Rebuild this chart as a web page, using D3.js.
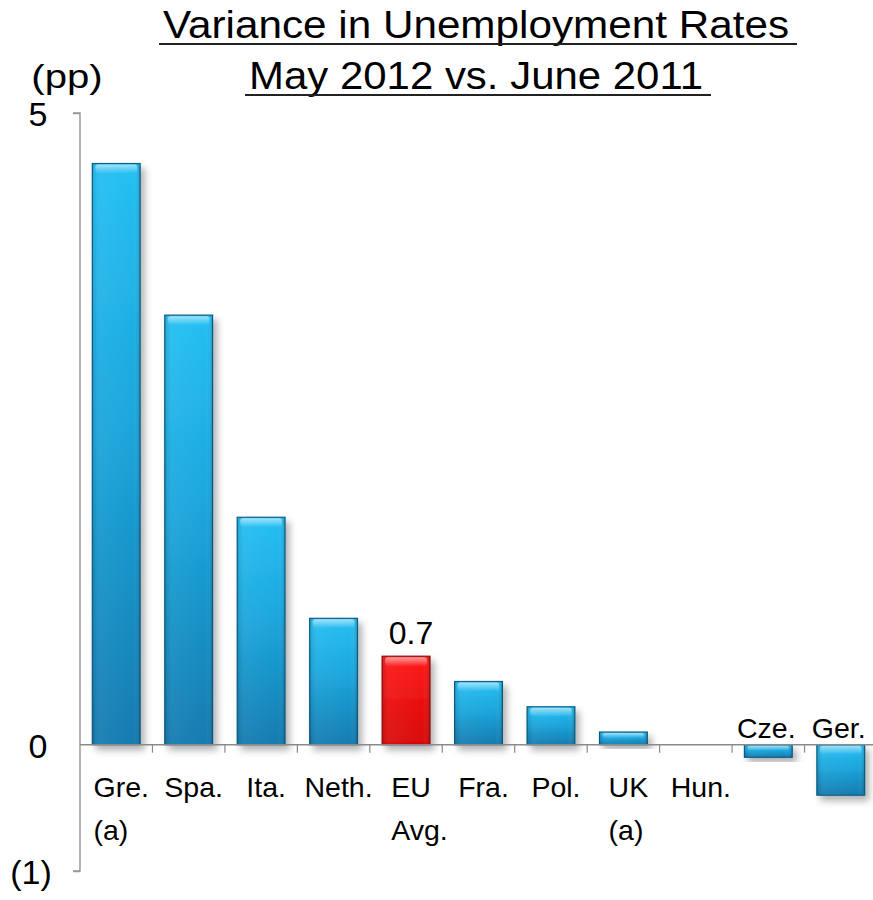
<!DOCTYPE html>
<html>
<head>
<meta charset="utf-8">
<script src="https://cdn.jsdelivr.net/npm/d3@7/dist/d3.min.js"></script>
<style>
  html, body { margin: 0; padding: 0; background: #fff; }
  svg text { font-family: "Liberation Sans", Arial, Helvetica, sans-serif; fill: #000; }
</style>
</head>
<body>
<svg id="chart" width="873" height="900"></svg>
<script>
// Change in unemployment rate, percentage points
const categories = ["Gre.", "Spa.", "Ita.", "Neth.", "EU", "Fra.", "Pol.", "UK", "Hun.", "Cze.", "Ger."];
const subLabels  = ["(a)", "", "", "", "Avg.", "", "", "(a)", "", "", ""];
const values     = [4.6, 3.4, 1.8, 1.0, 0.7, 0.5, 0.3, 0.1, 0.0, -0.1, -0.4];
const highlighted = ["EU"];
const tickValues = [5, 0, -1];
const tickLabels = ["5", "0", "(1)"];
const titleLines = ["Variance in Unemployment Rates", "May 2012 vs. June 2011"];
const unitLabel = "(pp)";

const svg = d3.select("#chart");
const defs = svg.append("defs");

// Glossy fills for the bars
const blue = defs.append("linearGradient").attr("id", "gBlue")
  .attr("x1", 0).attr("y1", 0).attr("x2", 0).attr("y2", 1);
blue.append("stop").attr("offset", "0%").attr("stop-color", "#25bff3");
blue.append("stop").attr("offset", "45%").attr("stop-color", "#1ba6dc");
blue.append("stop").attr("offset", "100%").attr("stop-color", "#137bb0");

const blueH = defs.append("linearGradient").attr("id", "gBlueH")
  .attr("x1", 0).attr("y1", 0).attr("x2", 1).attr("y2", 0);
blueH.append("stop").attr("offset", "0%").attr("stop-color", "#000").attr("stop-opacity", 0.12);
blueH.append("stop").attr("offset", "15%").attr("stop-color", "#fff").attr("stop-opacity", 0.05);
blueH.append("stop").attr("offset", "85%").attr("stop-color", "#fff").attr("stop-opacity", 0.0);
blueH.append("stop").attr("offset", "100%").attr("stop-color", "#000").attr("stop-opacity", 0.15);

const red = defs.append("linearGradient").attr("id", "gRed")
  .attr("x1", 0).attr("y1", 0).attr("x2", 0).attr("y2", 1);
red.append("stop").attr("offset", "0%").attr("stop-color", "#ff1c1c");
red.append("stop").attr("offset", "100%").attr("stop-color", "#d80606");

const shine = defs.append("linearGradient").attr("id", "gShine")
  .attr("x1", 0).attr("y1", 0).attr("x2", 0).attr("y2", 1);
shine.append("stop").attr("offset", "0%").attr("stop-color", "#fff").attr("stop-opacity", 0.55);
shine.append("stop").attr("offset", "100%").attr("stop-color", "#fff").attr("stop-opacity", 0);

const shadow = defs.append("filter").attr("id", "shadow")
  .attr("x", "-20%").attr("y", "-20%").attr("width", "150%").attr("height", "150%");
shadow.append("feDropShadow").attr("dx", 4).attr("dy", 5).attr("stdDeviation", 3.5)
  .attr("flood-color", "#000").attr("flood-opacity", 0.3);

// Scales
const x = d3.scaleBand().domain(categories).range([80, 877])
  .paddingInner(0.34).paddingOuter(0.17);
const y = d3.scaleLinear().domain([-1, 5]).range([871, 113]);
const step = x.step();

// Title with underlines
const titleBaselines = [38, 89];
const titleWidths = [626, 454];
const titleCx = 476;
titleLines.forEach((t, i) => {
  svg.append("text")
    .attr("x", titleCx).attr("y", titleBaselines[i])
    .attr("text-anchor", "middle")
    .attr("font-size", 38)
    .attr("textLength", titleWidths[i])
    .attr("lengthAdjust", "spacingAndGlyphs")
    .text(t);
  svg.append("line")
    .attr("x1", titleCx - titleWidths[i] / 2 - 4).attr("x2", titleCx + titleWidths[i] / 2 + 8)
    .attr("y1", titleBaselines[i] + 6).attr("y2", titleBaselines[i] + 6)
    .attr("stroke", "#222").attr("stroke-width", 2);
});

// Unit label
svg.append("text")
  .attr("transform", "translate(67,88) scale(1.18,1)")
  .attr("text-anchor", "middle")
  .attr("font-size", 34).text(unitLabel);

// Y axis
const yAxis = d3.axisLeft(y).tickValues(tickValues).tickSize(7).tickFormat("");
const gy = svg.append("g").attr("transform", "translate(80,0)").call(yAxis);
gy.select(".domain").attr("stroke", "#9a9a9a").attr("stroke-width", 1.5)
  .attr("d", `M-7,${y(5)}H0V${y(-1)}H-7`);
gy.selectAll(".tick line").attr("stroke", "#9a9a9a").attr("stroke-width", 1.5);
gy.selectAll(".tick").filter(d => d === 0).select("line").remove();

tickValues.forEach((v, i) => {
  svg.append("text")
    .attr("x", i === 2 ? 31 : 38).attr("y", y(v) + 13)
    .attr("text-anchor", "middle").attr("font-size", 34)
    .text(tickLabels[i]);
});

// Bars
const bars = svg.append("g");
categories.forEach((c, i) => {
  const v = values[i];
  if (v === 0) return;
  const top = y(Math.max(v, 0));
  const h = Math.abs(y(v) - y(0));
  const isHi = highlighted.includes(c);
  const g = bars.append("g");
  g.append("rect")
    .attr("x", x(c)).attr("y", top).attr("width", x.bandwidth()).attr("height", h)
    .attr("fill", isHi ? "url(#gRed)" : "url(#gBlue)")
    .attr("stroke", isHi ? "#8c0a0a" : "#0d5d86").attr("stroke-width", 1.2)
    .attr("filter", "url(#shadow)");
  g.append("rect")
    .attr("x", x(c)).attr("y", top).attr("width", x.bandwidth()).attr("height", h)
    .attr("fill", "url(#gBlueH)");
  const sh = Math.min(9, h * 0.4);
  g.append("rect")
    .attr("x", x(c) + 3).attr("y", top + 1).attr("width", x.bandwidth() - 6).attr("height", sh)
    .attr("rx", 3)
    .attr("fill", "url(#gShine)");
});

// Zero baseline and category ticks
svg.append("line").attr("x1", 80).attr("x2", 873).attr("y1", y(0)).attr("y2", y(0))
  .attr("stroke", "#8a8a8a").attr("stroke-width", 1.5);
categories.slice(1).forEach(c => {
  const bx = x(c) - step * x.paddingInner() / 2;
  svg.append("line").attr("x1", bx).attr("x2", bx).attr("y1", y(0)).attr("y2", y(0) + 8)
    .attr("stroke", "#8a8a8a").attr("stroke-width", 1.2);
});

// Category labels (below for gains, above for declines)
categories.forEach((c, i) => {
  const neg = values[i] < 0;
  const cx = x(c) + x.bandwidth() / 2 + (neg ? -2 : 5);
  const lbl = svg.append("text")
    .attr("x", cx).attr("y", neg ? y(0) - 7 : y(0) + 52)
    .attr("text-anchor", "middle").attr("font-size", 28.5)
    .text(c);
  if (subLabels[i]) {
    const bb = lbl.node().getBBox();
    svg.append("text")
      .attr("x", bb.x).attr("y", y(0) + 95)
      .attr("font-size", 28.5).text(subLabels[i]);
  }
});

// Value label on the highlighted bar
categories.forEach((c, i) => {
  if (!highlighted.includes(c)) return;
  svg.append("text")
    .attr("x", x(c) + x.bandwidth() / 2 + 5).attr("y", y(values[i]) - 12)
    .attr("text-anchor", "middle").attr("font-size", 32)
    .text(values[i].toFixed(1));
});
</script>
</body>
</html>
